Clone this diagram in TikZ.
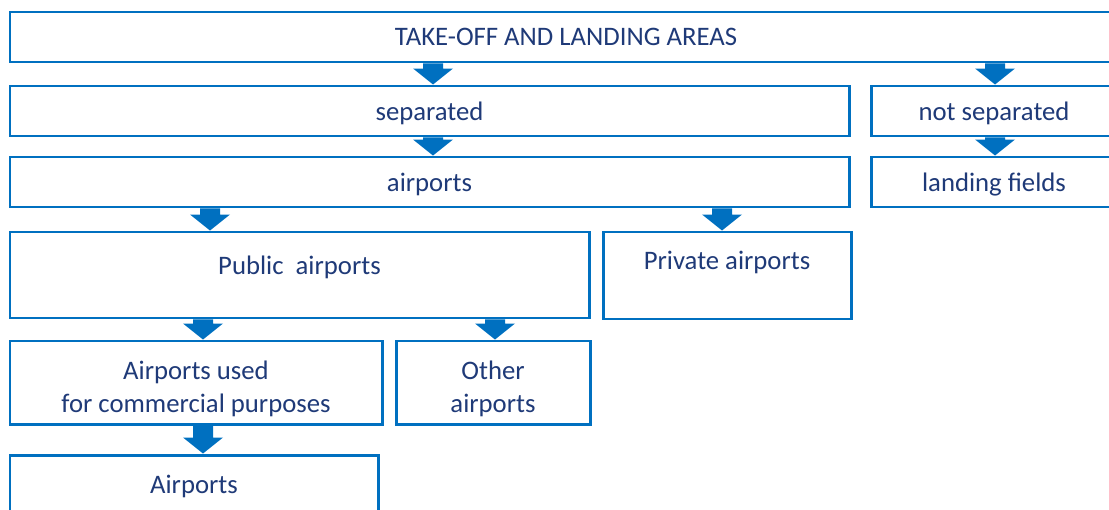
\documentclass[tikz,border=0pt]{standalone}
\usepackage{fontspec}
\setmainfont{Carlito}
\usetikzlibrary{positioning, calc}
\definecolor{Frame}{HTML}{0070C0}
\definecolor{Ink}{HTML}{1F3A78}
\tikzset{
    boxtext/.style={text=Ink, font=\fontsize{15.2}{18.8}\selectfont, align=center},
    areabox/.style={rectangle, draw=Frame, line width=1.7pt, fill=white, boxtext, text depth=0pt, inner sep=0pt},
    pointer/.style={fill=Frame},
}
% block arrow from the bottom of #1 to the top of #2, at x = #3
\newcommand{\downpointer}[3]{%
    \coordinate (col) at (#3,0);
    \coordinate (tail) at (#1.south -| col);
    \coordinate (tip) at (#2.north -| col);
    \fill[pointer] ([xshift=-0.2cm]tail) -- ([xshift=0.2cm]tail) -- ([xshift=0.2cm,yshift=0.32cm]tip)
        -- ([xshift=0.4cm,yshift=0.32cm]tip) -- (tip) -- ([xshift=-0.4cm,yshift=0.32cm]tip)
        -- ([xshift=-0.2cm,yshift=0.32cm]tip) -- cycle;}

\begin{document}
\begin{tikzpicture}[x=1cm, y=1cm]
    \useasboundingbox (0,0) rectangle (22.18,10.18);

    % --- Boxes ---
    \node[areabox, minimum width=22.24cm, minimum height=1cm] (areas) at (11.32, 9.44) {TAKE-OFF AND LANDING AREAS};
    \node[areabox, minimum width=16.78cm, minimum height=1cm] (sep)     at ( 8.59, 7.96) {separated};
    \node[areabox, minimum width=4.92cm,  minimum height=1cm] (notsep)  at (19.88, 7.96) {not separated};
    \node[areabox, minimum width=16.78cm, minimum height=1cm] (airp)    at ( 8.59, 6.54) {airports};
    \node[areabox, minimum width=4.92cm,  minimum height=1cm] (fields)  at (19.88, 6.54) {landing fields};
    \node[areabox, minimum width=11.58cm, minimum height=1.72cm,
          label={[boxtext, yshift=0.16cm]center:Public~~airports}] (public) at (5.99, 4.68) {};
    \node[areabox, minimum width=4.96cm,  minimum height=1.74cm,
          label={[boxtext, yshift=0.27cm]center:Private airports}] (private) at (14.54, 4.67) {};
    \node[areabox, minimum width=7.44cm,  minimum height=1.66cm,
          label={[boxtext, yshift=-0.12cm]center:Airports used\\for commercial purposes}] (commercial) at (3.92, 2.53) {};
    \node[areabox, minimum width=3.88cm,  minimum height=1.66cm,
          label={[boxtext, yshift=-0.12cm]center:Other\\airports}] (other) at (9.86, 2.53) {};
    \node[areabox, minimum width=7.36cm,  minimum height=1.16cm] (final) at (3.88, 0.50) {Airports};

    % --- Arrows ---
    \downpointer{areas}{sep}{8.66}
    \downpointer{areas}{notsep}{19.90}
    \downpointer{sep}{airp}{8.66}
    \downpointer{notsep}{fields}{19.90}
    \downpointer{airp}{public}{4.20}
    \downpointer{airp}{private}{14.44}
    \downpointer{public}{commercial}{4.06}
    \downpointer{public}{other}{9.90}
    \downpointer{commercial}{final}{4.06}
\end{tikzpicture}
\end{document}
